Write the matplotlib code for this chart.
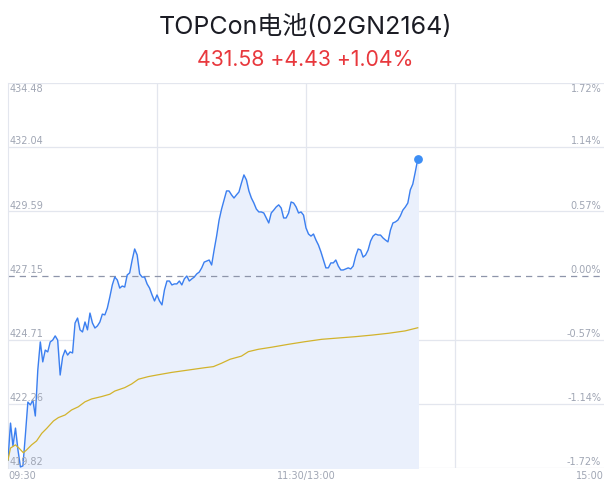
import matplotlib
matplotlib.use('Agg')
import matplotlib.pyplot as plt
import matplotlib.transforms as mtransforms

plt.rcParams['font.family'] = ['Inter', 'Noto Sans CJK SC', 'DejaVu Sans']

# Chart data
TITLE = 'TOPCon电池(02GN2164)'
SUBTITLE = '431.58 +4.43 +1.04%'
PREV_CLOSE = 427.15
Y_TICKS = [419.82, 422.26, 424.71, 427.15, 429.59, 432.04, 434.48]
PCT_LABELS = ['-1.72%', '-1.14%', '-0.57%', '0.00%', '0.57%', '1.14%', '1.72%']
TIME_LABELS = ['09:30', '11:30/13:00', '15:00']
TIME_POS = [0, 120, 240]
TOTAL_MINUTES = 240

# price per minute since 09:30
price = [
    420.12, 421.53, 420.66, 421.34, 420.51, 419.86, 419.90, 421.08, 422.33, 422.22,
    422.41, 421.80, 423.55, 424.62, 423.86, 424.31, 424.24, 424.62, 424.69, 424.85,
    424.69, 423.36, 424.05, 424.31, 424.12, 424.24, 424.20, 425.34, 425.53, 425.08,
    425.00, 425.38, 425.08, 425.72, 425.34, 425.15, 425.23, 425.38, 425.68, 425.65,
    425.91, 426.33, 426.79, 427.09, 426.98, 426.67, 426.75, 426.71, 427.17, 427.25,
    427.74, 428.16, 427.93, 427.21, 427.09, 427.09, 426.83, 426.67, 426.41, 426.18,
    426.41, 426.18, 426.03, 426.60, 426.94, 426.94, 426.79, 426.83, 426.83, 426.94,
    426.79, 427.02, 427.13, 426.94, 427.02, 427.09, 427.21, 427.28, 427.44, 427.66,
    427.70, 427.74, 427.55, 428.12, 428.65, 429.26, 429.68, 430.03, 430.37, 430.37,
    430.22, 430.10, 430.22, 430.33, 430.67, 430.98, 430.79, 430.37, 430.10, 429.91,
    429.68, 429.57, 429.57, 429.53, 429.34, 429.15, 429.53, 429.64, 429.76, 429.84,
    429.72, 429.34, 429.34, 429.53, 429.95, 429.91, 429.76, 429.53, 429.57, 429.45,
    428.96, 428.73, 428.65, 428.73, 428.50, 428.31, 428.05, 427.74, 427.44, 427.44,
    427.63, 427.63, 427.74, 427.51, 427.36, 427.36, 427.40, 427.44, 427.40, 427.51,
    427.89, 428.16, 428.12, 427.85, 427.93, 428.12, 428.46, 428.65, 428.73, 428.69,
    428.69, 428.58, 428.50, 428.43, 428.88, 429.15, 429.19, 429.26, 429.42, 429.64,
    429.76, 429.91, 430.41, 430.63, 431.09, 431.58,
]

# average price line, read at these minutes
avg_minutes = [0, 1, 3, 4.4, 6.2, 7.5, 9.5, 11.5, 13.6, 15.6, 18.3, 20.3, 23, 25.6,
               28.3, 31, 33.7, 37.7, 41, 43, 47, 49.8, 52.5, 56.5, 59.9, 65.9, 72.6,
               79.3, 82.7, 86, 89.4, 94, 96.8, 100.8, 106.2, 112.9, 119.6, 126.3,
               133, 139.8, 146.5, 153.2, 159.9, 165]
avg_price = [420.12, 420.58, 420.70, 420.58, 420.40, 420.51, 420.70, 420.85, 421.14,
             421.33, 421.61, 421.74, 421.84, 422.03, 422.15, 422.34, 422.45, 422.54,
             422.63, 422.75, 422.88, 423.02, 423.20, 423.30, 423.36, 423.46, 423.55,
             423.64, 423.68, 423.81, 423.96, 424.08, 424.25, 424.34, 424.42, 424.53,
             424.63, 424.72, 424.77, 424.82, 424.88, 424.95, 425.04, 425.16]

GRID = '#e3e6ee'
LABEL = '#a0a6b4'
TICK_FONT = ['DejaVu Sans']

fig = plt.figure(figsize=(6.11, 4.92), dpi=100)
ax = fig.add_axes([8 / 611, 24 / 492, 596 / 611, 385 / 492])

minutes = list(range(len(price)))
ax.fill_between(minutes, price, Y_TICKS[0], color='#eaf0fc', zorder=1)
ax.plot(minutes, price, color='#3b7ff0', lw=1.0, zorder=3)
ax.plot(avg_minutes, avg_price, color='#d2b32c', lw=0.9, zorder=3)
ax.scatter([minutes[-1]], [price[-1]], s=28, color='#3d8ef5', zorder=4)

ax.set_xlim(0, TOTAL_MINUTES)
ax.set_ylim(Y_TICKS[0], Y_TICKS[-1])

for v in Y_TICKS:
    if v == PREV_CLOSE:
        ax.axhline(v, color='#8e95aa', lw=0.9, ls=(0, (5, 4)), zorder=2)
    else:
        ax.axhline(v, color=GRID, lw=0.9, zorder=0.5)
for m in [60, 120, 180]:
    ax.axvline(m, color=GRID, lw=0.9, zorder=0.5)

for s in ['top', 'right', 'bottom']:
    ax.spines[s].set_visible(False)
ax.spines['left'].set_color(GRID)
ax.set_xticks([])
ax.set_yticks([])

# price and percent labels sit just above each grid line (top one below it)
tr = mtransforms.blended_transform_factory(ax.transAxes, ax.transData)
for v, p in zip(Y_TICKS, PCT_LABELS):
    top = v == Y_TICKS[-1]
    va = 'top' if top else 'bottom'
    dy = -1 if top else 0.5
    ax.annotate(f'{v:.2f}', (0, v), xycoords=tr, xytext=(1, dy),
                textcoords='offset points', ha='left', va=va,
                fontsize=7, color=LABEL, family=TICK_FONT, zorder=5)
    ax.annotate(p, (1, v), xycoords=tr, xytext=(-2, dy),
                textcoords='offset points', ha='right', va=va,
                fontsize=7, color=LABEL, family=TICK_FONT, zorder=5)

trx = mtransforms.blended_transform_factory(ax.transData, ax.transAxes)
for pos, lab, ha in zip(TIME_POS, TIME_LABELS, ['left', 'center', 'right']):
    ax.annotate(lab, (pos, 0), xycoords=trx, xytext=(0, -2),
                textcoords='offset points', ha=ha, va='top',
                fontsize=7, color=LABEL, family=TICK_FONT)

fig.text(0.5, 1 - 27 / 492, TITLE, ha='center', va='center',
         fontsize=18, color='#1b1c24')
fig.text(0.5, 1 - 60 / 492, SUBTITLE, ha='center', va='center',
         fontsize=15.3, color='#e8383d')

fig.savefig('out.png', dpi=100)
